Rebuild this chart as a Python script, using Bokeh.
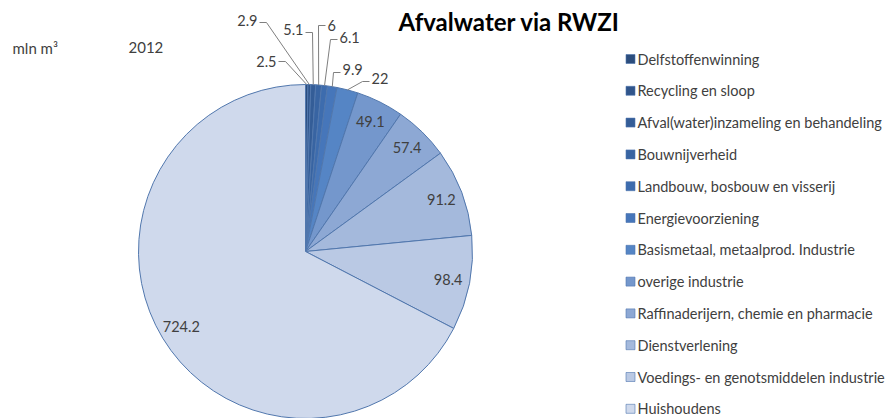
import numpy as np
from bokeh.plotting import figure
from bokeh.models import Range1d, ColumnDataSource
from bokeh.core.properties import value
from bokeh.embed import file_html
from bokeh.resources import INLINE

# ---- data ----
categories = [
    "Delfstoffenwinning",
    "Recycling en sloop",
    "Afval(water)inzameling en behandeling",
    "Bouwnijverheid",
    "Landbouw, bosbouw en visserij",
    "Energievoorziening",
    "Basismetaal, metaalprod. Industrie",
    "overige industrie",
    "Raffinaderijern, chemie en pharmacie",
    "Dienstverlening",
    "Voedings- en genotsmiddelen industrie",
    "Huishoudens",
]
values = [2.5, 2.9, 5.1, 6, 6.1, 9.9, 22, 49.1, 57.4, 91.2, 98.4, 724.2]
value_labels = ["2.5", "2.9", "5.1", "6", "6.1", "9.9", "22", "49.1", "57.4", "91.2", "98.4", "724.2"]
title_text = "Afvalwater via RWZI"
unit_text = "mln m\u00b3"
year_text = "2012"

# ---- style ----
colors = ["#2C4D7D", "#30558B", "#345D97", "#3864A2", "#3D6CAE", "#4676BA",
          "#5585C5", "#7497CC", "#8DA8D4", "#A4B9DC", "#BAC9E4", "#CFD9EC"]
FONT = "Lato"
W, H = 889, 418


def fx(px):
    return px


def fy(py):
    return H - py


CX, CY, R = fx(305), fy(251), 167
INNER_FRAC = 0.87

# outside-label layout for the small slices (page pixels):
# elbow x, elbow y, dash direction (-1 left / +1 right), text y
outside_layout = {
    0: (285, 61, -1, 61),
    1: (266, 22, -1, 20),
    2: (312, 32, -1, 29),
    3: (318, 25, +1, 25),
    4: (330, 39, +1, 37),
    5: (333, 72, +1, 69),
    6: (362, 81, +1, 78),
}
DASH = 7

p = figure(width=W, height=H, x_range=Range1d(0, W), y_range=Range1d(0, H),
           output_backend="svg", toolbar_location=None, min_border=0)
p.axis.visible = False
p.grid.visible = False
p.outline_line_color = None
p.background_fill_color = "white"
p.border_fill_color = "white"

vals = np.array(values, dtype=float)
total = vals.sum()
cum_end = np.cumsum(vals)
cum_start = cum_end - vals
start_angle = np.pi / 2 - cum_end / total * 2 * np.pi
end_angle = np.pi / 2 - cum_start / total * 2 * np.pi
mid = (start_angle + end_angle) / 2

src = ColumnDataSource(dict(start=start_angle, end=end_angle, color=colors, cat=categories))
p.wedge(x=CX, y=CY, radius=R, start_angle="start", end_angle="end",
        fill_color="color", line_color="#5177AD", line_width=1, source=src)

# inside labels
inside = [i for i in range(len(values)) if i not in outside_layout]
p.text(x=[CX + INNER_FRAC * R * np.cos(mid[i]) for i in inside],
       y=[CY + INNER_FRAC * R * np.sin(mid[i]) for i in inside],
       text=[value_labels[i] for i in inside],
       text_font=value(FONT), text_font_size="14.5px", text_color="#404040",
       text_align="center", text_baseline="middle")

# outside labels with leader lines
for i, (ex, ey, d, ty) in outside_layout.items():
    edge_x = CX + R * np.cos(mid[i])
    edge_y = CY + R * np.sin(mid[i])
    end_x = ex + d * DASH
    p.line([edge_x, fx(ex), fx(end_x)], [edge_y, fy(ey), fy(ey)],
           line_color="#7F7F7F", line_width=1)
    p.text(x=[fx(end_x + d * 2)], y=[fy(ty)], text=[value_labels[i]],
           text_font=value(FONT), text_font_size="14.5px", text_color="#404040",
           text_align="left" if d > 0 else "right", text_baseline="middle")

# legend (manual)
LEG_X, LEG_Y0, LEG_STEP = 630, 58.5, 31.8
ly = [fy(LEG_Y0 + LEG_STEP * i) for i in range(len(categories))]
p.rect(x=[fx(LEG_X)] * len(categories), y=ly, width=9, height=9,
       fill_color=colors, line_color="#4F76AE", line_width=0.6)
p.text(x=[fx(LEG_X + 7)] * len(categories), y=ly, text=categories,
       text_font=value(FONT), text_font_size="14.5px", text_color="#404040",
       text_align="left", text_baseline="middle")

# titles
p.text(x=[fx(398)], y=[fy(21)], text=[title_text], text_font=value(FONT),
       text_font_size="24px", text_font_style="bold", text_color="#000000",
       text_align="left", text_baseline="middle")
p.text(x=[fx(12)], y=[fy(47)], text=[unit_text], text_font=value(FONT),
       text_font_size="15px", text_color="#404040",
       text_align="left", text_baseline="middle")
p.text(x=[fx(128)], y=[fy(47)], text=[year_text], text_font=value(FONT),
       text_font_size="15px", text_color="#404040",
       text_align="left", text_baseline="middle")

open("out.html", "w").write(file_html(p, INLINE))
